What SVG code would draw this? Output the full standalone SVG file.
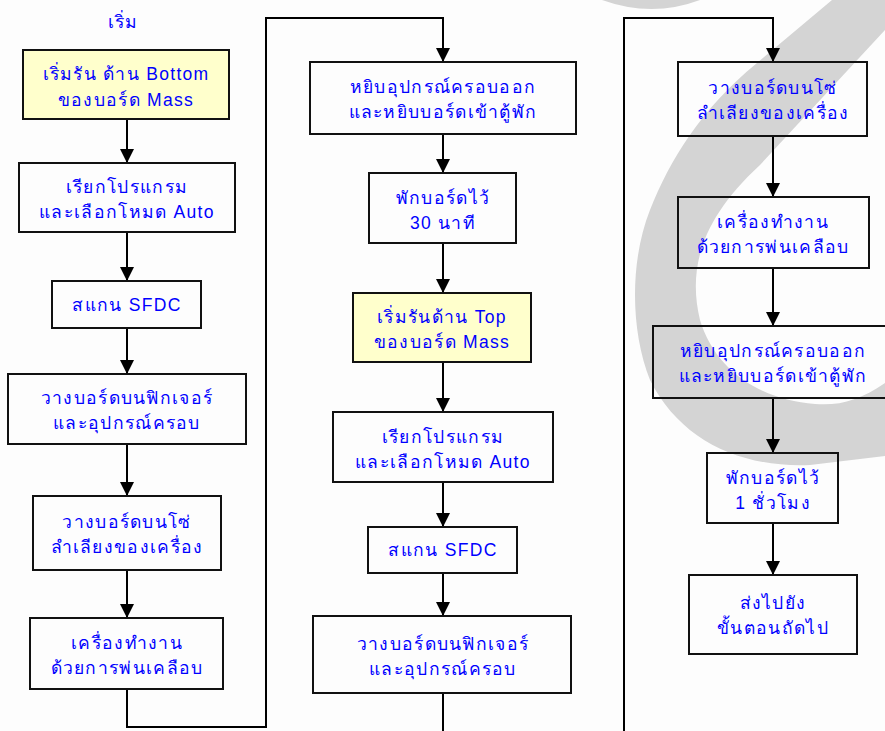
<svg xmlns="http://www.w3.org/2000/svg" width="885" height="731" viewBox="0 0 885 731">
  <defs>
    <marker id="arrow" viewBox="0 0 14 14" refX="14" refY="7" markerWidth="14" markerHeight="14" markerUnits="userSpaceOnUse" orient="auto">
      <path d="M0,0 L14,7 L0,14 Z" fill="#000"/>
    </marker>
    <style>
      .box { fill: none; stroke: #111; stroke-width: 2; }
      .start { fill: #ffffcc; stroke: #111; stroke-width: 2; }
      .lbl { font-family: "Liberation Sans", "Noto Sans", sans-serif; font-size: 17.5px; letter-spacing: 1.3px; fill: #0000ff; text-anchor: middle; }
      .wire { fill: none; stroke: #000; stroke-width: 2; }
      .wm { fill: #d4d4d4; }
    </style>
  </defs>

  <rect width="885" height="731" fill="#fdfdfd"/>

  <!-- background swoosh -->
  <g id="watermark">
    <path class="wm" d="M602,0 Q652,18 700,0 Z"/>
    <path class="wm" d="M832,0 L757,63 C700,110 670,160 650,210 C630,260 630,330 650,380 C680,440 740,468 810,465 L885,456 L885,383 C860,400 840,406 815,404 C760,400 715,370 700,320 C688,270 700,220 760,165 L885,30 L885,0 Z"/>
  </g>

  <g id="connectors">
    <!-- column 1 -->
    <line class="wire" x1="127" y1="119" x2="127" y2="163" marker-end="url(#arrow)"/>
    <line class="wire" x1="127" y1="232" x2="127" y2="281" marker-end="url(#arrow)"/>
    <line class="wire" x1="127" y1="328" x2="127" y2="374" marker-end="url(#arrow)"/>
    <line class="wire" x1="127" y1="444" x2="127" y2="496" marker-end="url(#arrow)"/>
    <line class="wire" x1="127" y1="570" x2="127" y2="618" marker-end="url(#arrow)"/>
    <polyline class="wire" points="127,689 127,727 266,727 266,18 443,18 443,62" marker-end="url(#arrow)"/>
    <!-- column 2 -->
    <line class="wire" x1="443" y1="134" x2="443" y2="173" marker-end="url(#arrow)"/>
    <line class="wire" x1="443" y1="243" x2="443" y2="293" marker-end="url(#arrow)"/>
    <line class="wire" x1="443" y1="362" x2="443" y2="412" marker-end="url(#arrow)"/>
    <line class="wire" x1="443" y1="482" x2="443" y2="527" marker-end="url(#arrow)"/>
    <line class="wire" x1="443" y1="573" x2="443" y2="616" marker-end="url(#arrow)"/>
    <line class="wire" x1="443" y1="693" x2="443" y2="732"/>
    <!-- column 3 -->
    <polyline class="wire" points="624,732 624,18 773,18 773,62" marker-end="url(#arrow)"/>
    <line class="wire" x1="773" y1="136" x2="773" y2="197" marker-end="url(#arrow)"/>
    <line class="wire" x1="773" y1="268" x2="773" y2="326" marker-end="url(#arrow)"/>
    <line class="wire" x1="773" y1="398" x2="773" y2="453" marker-end="url(#arrow)"/>
    <line class="wire" x1="773" y1="523" x2="773" y2="575" marker-end="url(#arrow)"/>
  </g>

  <g id="start-label">
    <text class="lbl" x="123" y="28">เริ่ม</text>
  </g>

  <!-- column 1 steps -->
  <g id="n1">
    <rect class="start" x="23" y="50" width="206" height="69"/>
    <text class="lbl" x="126" y="80">เริ่มรัน ด้าน Bottom</text>
    <text class="lbl" x="126" y="106">ของบอร์ด Mass</text>
  </g>
  <g id="n2">
    <rect class="box" x="19" y="163" width="216" height="69"/>
    <text class="lbl" x="127" y="193">เรียกโปรแกรม</text>
    <text class="lbl" x="127" y="218">และเลือกโหมด Auto</text>
  </g>
  <g id="n3">
    <rect class="box" x="52" y="281" width="149" height="47"/>
    <text class="lbl" x="127" y="311">สแกน SFDC</text>
  </g>
  <g id="n4">
    <rect class="box" x="8" y="374" width="238" height="70"/>
    <text class="lbl" x="127" y="404">วางบอร์ดบนฟิกเจอร์</text>
    <text class="lbl" x="127" y="429">และอุปกรณ์ครอบ</text>
  </g>
  <g id="n5">
    <rect class="box" x="33" y="496" width="188" height="74"/>
    <text class="lbl" x="127" y="528">วางบอร์ดบนโซ่</text>
    <text class="lbl" x="127" y="553">ลำเลียงของเครื่อง</text>
  </g>
  <g id="n6">
    <rect class="box" x="30" y="618" width="193" height="71"/>
    <text class="lbl" x="127" y="649">เครื่องทำงาน</text>
    <text class="lbl" x="127" y="674">ด้วยการพ่นเคลือบ</text>
  </g>

  <!-- column 2 steps -->
  <g id="n7">
    <rect class="box" x="310" y="62" width="266" height="72"/>
    <text class="lbl" x="443" y="93">หยิบอุปกรณ์ครอบออก</text>
    <text class="lbl" x="443" y="118">และหยิบบอร์ดเข้าตู้พัก</text>
  </g>
  <g id="n8">
    <rect class="box" x="369" y="173" width="147" height="70"/>
    <text class="lbl" x="443" y="204">พักบอร์ดไว้</text>
    <text class="lbl" x="443" y="229">30 นาที</text>
  </g>
  <g id="n9">
    <rect class="start" x="353" y="293" width="178" height="69"/>
    <text class="lbl" x="442" y="323">เริ่มรันด้าน Top</text>
    <text class="lbl" x="442" y="348">ของบอร์ด Mass</text>
  </g>
  <g id="n10">
    <rect class="box" x="333" y="412" width="220" height="70"/>
    <text class="lbl" x="443" y="443">เรียกโปรแกรม</text>
    <text class="lbl" x="443" y="468">และเลือกโหมด Auto</text>
  </g>
  <g id="n11">
    <rect class="box" x="368" y="527" width="149" height="46"/>
    <text class="lbl" x="443" y="556">สแกน SFDC</text>
  </g>
  <g id="n12">
    <rect class="box" x="313" y="616" width="258" height="77"/>
    <text class="lbl" x="443" y="650">วางบอร์ดบนฟิกเจอร์</text>
    <text class="lbl" x="443" y="675">และอุปกรณ์ครอบ</text>
  </g>

  <!-- column 3 steps -->
  <g id="n13">
    <rect class="box" x="678" y="62" width="189" height="74"/>
    <text class="lbl" x="773" y="94">วางบอร์ดบนโซ่</text>
    <text class="lbl" x="773" y="119">ลำเลียงของเครื่อง</text>
  </g>
  <g id="n14">
    <rect class="box" x="678" y="197" width="191" height="71"/>
    <text class="lbl" x="773" y="228">เครื่องทำงาน</text>
    <text class="lbl" x="773" y="253">ด้วยการพ่นเคลือบ</text>
  </g>
  <g id="n15">
    <rect class="box" x="653" y="326" width="240" height="72"/>
    <text class="lbl" x="773" y="357">หยิบอุปกรณ์ครอบออก</text>
    <text class="lbl" x="773" y="382">และหยิบบอร์ดเข้าตู้พัก</text>
  </g>
  <g id="n16">
    <rect class="box" x="707" y="453" width="131" height="70"/>
    <text class="lbl" x="773" y="484">พักบอร์ดไว้</text>
    <text class="lbl" x="773" y="509">1 ชั่วโมง</text>
  </g>
  <g id="n17">
    <rect class="box" x="689" y="575" width="168" height="79"/>
    <text class="lbl" x="773" y="609">ส่งไปยัง</text>
    <text class="lbl" x="773" y="634">ขั้นตอนถัดไป</text>
  </g>
</svg>
